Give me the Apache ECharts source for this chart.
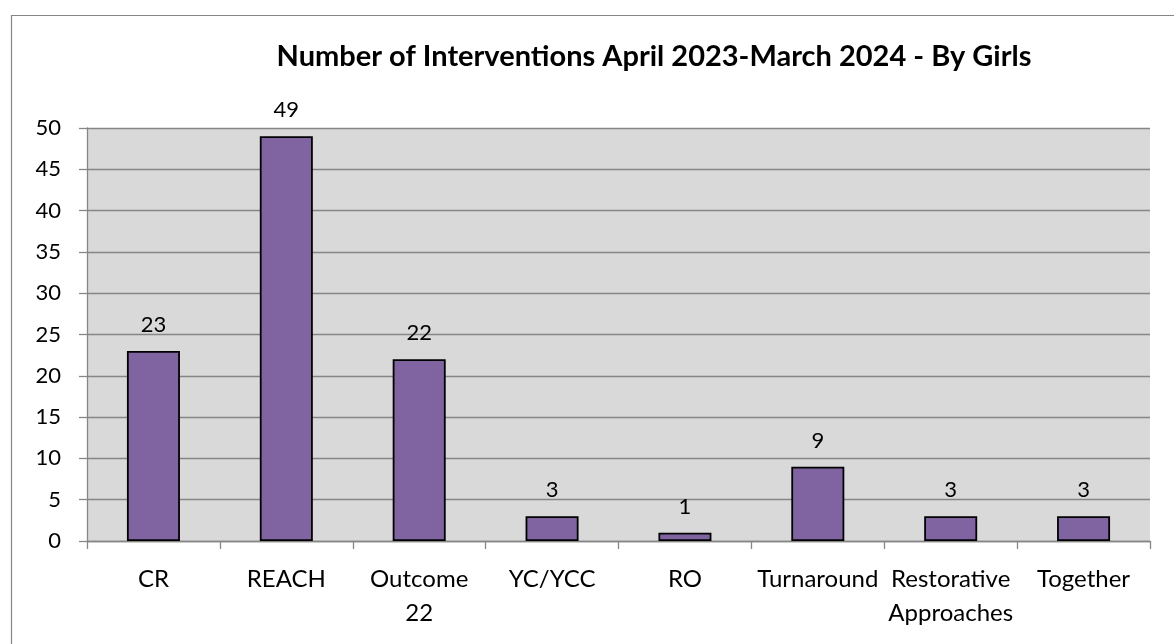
<!DOCTYPE html>
<html>
<head>
<meta charset="utf-8">
<script src="https://cdn.jsdelivr.net/npm/echarts@6/dist/echarts.min.js"></script>
<style>
html,body{margin:0;padding:0;background:#fff;}
#chart{width:1174px;height:644px;}
</style>
</head>
<body>
<div id="chart"></div>
<script>
var titleText = 'Number of Interventions April 2023-March 2024 - By Girls';
var categories = ['CR', 'REACH', 'Outcome\n22', 'YC/YCC', 'RO', 'Turnaround', 'Restorative\nApproaches', 'Together'];
var values = [23, 49, 22, 3, 1, 9, 3, 3];
var yMin = 0, yMax = 50, yStep = 5;

var FONT = 'Lato';
var chart = echarts.init(document.getElementById('chart'), null, {renderer: 'canvas'});
chart.setOption({
  animation: false,
  backgroundColor: '#fff',
  graphic: [{
    type: 'rect', left: 9, top: 13, silent: true,
    shape: {width: 1200, height: 700},
    style: {fill: 'none', stroke: '#868686', lineWidth: 1.2}
  }],
  title: {
    text: titleText, left: 649, textAlign: 'center', top: 37,
    textStyle: {fontFamily: FONT, fontWeight: 'bold', fontSize: 29, color: '#000'}
  },
  grid: {left: 87, right: 24, top: 128, bottom: 103, show: true, backgroundColor: '#D9D9D9', borderWidth: 0},
  xAxis: {
    type: 'category', data: categories,
    axisLine: {lineStyle: {color: '#868686', width: 1.3}},
    axisTick: {show: true, length: 8, alignWithLabel: false, lineStyle: {color: '#868686', width: 1.3}},
    axisLabel: {fontFamily: FONT, fontSize: 24, color: '#000', margin: 21, lineHeight: 34, interval: 0}
  },
  yAxis: {
    type: 'value', min: yMin, max: yMax, interval: yStep,
    axisLine: {show: true, lineStyle: {color: '#868686', width: 1.3}},
    axisTick: {show: true, length: 8, lineStyle: {color: '#868686', width: 1.3}},
    splitLine: {show: true, lineStyle: {color: '#868686', width: 1.3}},
    axisLabel: {fontFamily: FONT, fontSize: 22, color: '#000', margin: 26}
  },
  series: [{
    type: 'bar', data: values, barWidth: 53,
    itemStyle: {color: '#8064A2', borderColor: '#000', borderWidth: 1.8},
    label: {show: true, position: 'top', distance: 15, fontFamily: FONT, fontSize: 22, color: '#000'}
  }]
});
</script>
</body>
</html>
